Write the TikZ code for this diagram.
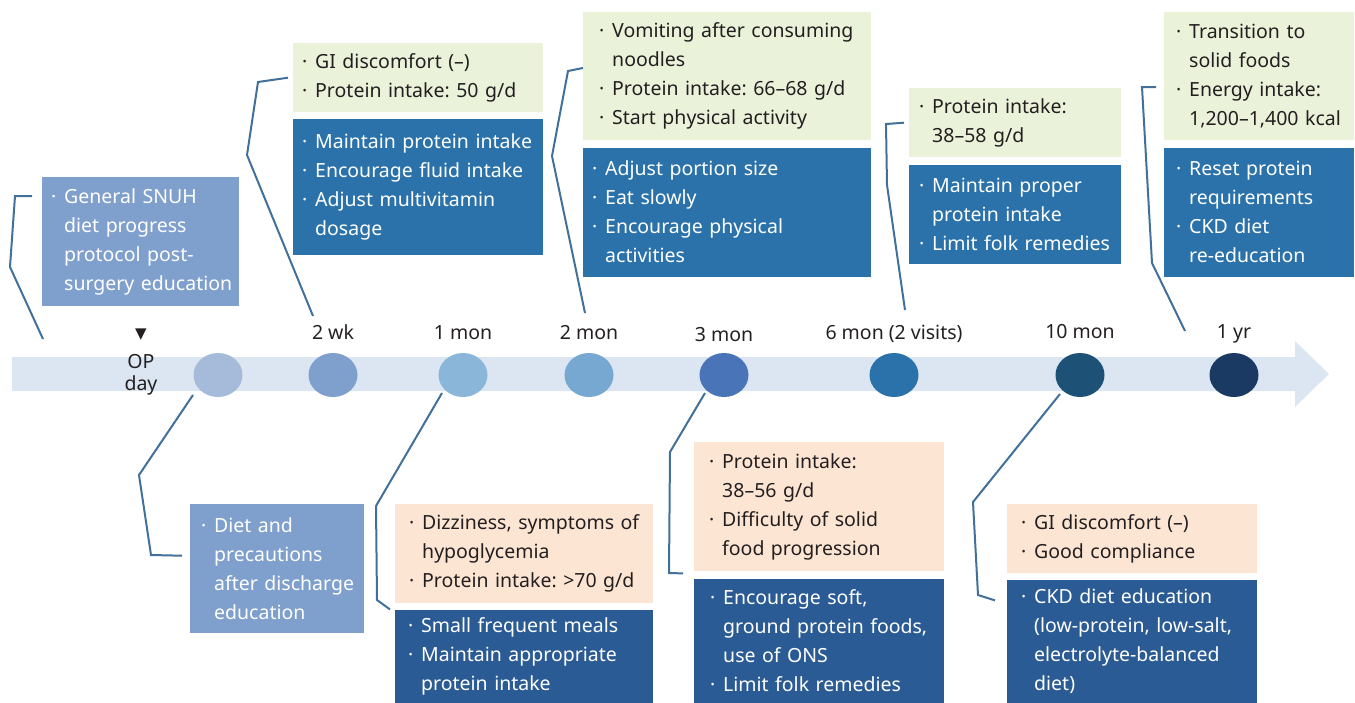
\documentclass[tikz,border=0pt]{standalone}
\usepackage{fontspec}
\setmainfont{Noto Sans}
\newfontfamily\symfont{DejaVu Sans}
\usepackage{xcolor}
\usepackage{tikz}
\usetikzlibrary{positioning,shapes.geometric,calc}

\definecolor{bandblue}{HTML}{DCE6F2}
\definecolor{linkblue}{HTML}{41709A}
\definecolor{obsgreen}{HTML}{EBF2DA}
\definecolor{obspeach}{HTML}{FDE5D3}
\definecolor{actblue}{HTML}{2A72A9}
\definecolor{actdark}{HTML}{2B5B94}
\definecolor{edublue}{HTML}{7F9FCD}
\definecolor{inkgray}{HTML}{231F20}
\definecolor{dotA}{RGB}{166,187,217}
\definecolor{dotB}{RGB}{127,159,205}
\definecolor{dotC}{RGB}{138,182,217}
\definecolor{dotD}{RGB}{118,168,209}
\definecolor{dotE}{RGB}{74,116,184}
\definecolor{dotF}{RGB}{43,114,170}
\definecolor{dotG}{RGB}{29,82,118}
\definecolor{dotH}{RGB}{26,58,100}

\frenchspacing
\newlength{\bpad}
\setlength{\bpad}{10pt}
\newcommand{\itm}{\hspace*{\dimexpr\bpad-1pt\relax}\makebox[13pt][l]{·}}
\newcommand{\ind}{\hspace*{\dimexpr\bpad+12pt\relax}}

\begin{document}
\begin{tikzpicture}[
    x=1pt, y=-1pt,
    node distance = 7pt,
    txt/.style     = {font=\fontsize{19.5}{29}\selectfont, text=inkgray},
    pad/.style     = {execute at begin node={\setlength{\bpad}{#1}}},
    box/.style     = {rectangle, txt, align=left, inner sep=0pt,
                      anchor=north west, pad=10pt},
    findbox/.style = {box, fill=obsgreen},
    warnbox/.style = {box, fill=obspeach},
    actbox/.style  = {box, fill=actblue, text=white},
    deepbox/.style = {box, fill=actdark, text=white},
    edubox/.style  = {box, fill=edublue, text=white},
    dot/.style     = {ellipse, minimum width=49pt, minimum height=44pt, inner sep=0pt},
    tl/.style      = {txt, anchor=base, inner sep=0pt},
    conn/.style    = {draw=linkblue, line width=2pt},
]
\useasboundingbox (0,0) rectangle (1355,702);

% timeline band
\fill[bandblue] (12,357) -- (1295,357) -- (1295,341) -- (1329,374)
               -- (1295,407) -- (1295,391) -- (12,391) -- cycle;

% visits
\node[dot, fill=dotA] (cOP)    at (218,375)  {};
\node[dot, fill=dotB] (c2wk)   at (333,375)  {};
\node[dot, fill=dotC] (c1mon)  at (463,375)  {};
\node[dot, fill=dotD] (c2mon)  at (589,375)  {};
\node[dot, fill=dotE] (c3mon)  at (724,375)  {};
\node[dot, fill=dotF] (c6mon)  at (894,375)  {};
\node[dot, fill=dotG] (c10mon) at (1080,375) {};
\node[dot, fill=dotH] (c1yr)   at (1234,375) {};

\node[inner sep=0pt, font=\symfont\fontsize{15}{15}\selectfont, text=inkgray] (tri) at (141,335) {▼};
\node[txt, align=center, inner sep=0pt, font=\fontsize{19.5}{22}\selectfont] (lOP) at (141,375) {OP\\day};
\node[tl] (l2wk)   at (333,339)  {2 wk};
\node[tl] (l1mon)  at (463,339)  {1 mon};
\node[tl] (l2mon)  at (589,339)  {2 mon};
\node[tl] (l3mon)  at (724,341)  {3 mon};
\node[tl] (l6mon)  at (894,339)  {6 mon (2 visits)};
\node[tl] (l10mon) at (1080,338) {10 mon};
\node[tl] (l1yr)   at (1234,338) {1 yr};

% boxes above the line
\node[edubox, text width=197pt, minimum height=129pt] (bOPtop) at (42,177)
    {\itm General SNUH\\ \ind diet progress\\ \ind protocol post-\\ \ind surgery education};

\node[findbox, text width=250pt, minimum height=69pt] (g2wk) at (293,43)
    {\itm GI discomfort (–)\\ \itm Protein intake: 50 g/d};
\node[actbox, text width=250pt, minimum height=136pt, below=6pt of g2wk] (b2wk)
    {\itm Maintain protein intake\\ \itm Encourage fluid intake\\
     \itm Adjust multivitamin\\ \ind dosage};

\node[findbox, pad=17pt, text width=288pt, minimum height=128pt] (g2mon) at (583,12)
    {\itm Vomiting after consuming\\ \ind noodles\\
     \itm Protein intake: 66–68 g/d\\ \itm Start physical activity};
\node[actbox, text width=288pt, minimum height=129pt, below=of g2mon] (b2mon)
    {\itm Adjust portion size\\ \itm Eat slowly\\
     \itm Encourage physical\\ \ind activities};

\node[findbox, pad=11pt, text width=212pt, minimum height=69pt] (g6mon) at (909,88)
    {\itm Protein intake:\\ \ind 38–58 g/d};
\node[actbox, pad=11pt, text width=212pt, minimum height=99pt, below=of g6mon] (b6mon)
    {\itm Maintain proper\\ \ind protein intake\\ \itm Limit folk remedies};

\node[findbox, pad=13pt, text width=190pt, minimum height=128pt] (g1yr) at (1164,12)
    {\itm Transition to\\ \ind solid foods\\ \itm Energy intake:\\ \ind 1,200–1,400 kcal};
\node[actbox, pad=13pt, text width=190pt, minimum height=129pt, below=of g1yr] (b1yr)
    {\itm Reset protein\\ \ind requirements\\ \itm CKD diet\\ \ind re-education};

% boxes below the line
\node[edubox, pad=12pt, text width=174pt, minimum height=129pt] (bOPbot) at (190,504)
    {\itm Diet and\\ \ind precautions\\ \ind after discharge\\ \ind education};

\node[warnbox, pad=15pt, text width=258pt, minimum height=99pt] (p1mon) at (395,504)
    {\itm Dizziness, symptoms of\\ \ind hypoglycemia\\ \itm Protein intake: >70 g/d};
\node[deepbox, pad=14pt, text width=258pt, minimum height=93pt, below=6pt of p1mon] (d1mon)
    {\itm Small frequent meals\\ \itm Maintain appropriate\\ \ind protein intake};

\node[warnbox, pad=16pt, text width=250pt, minimum height=129pt] (p3mon) at (694,442)
    {\itm Protein intake:\\ \ind 38–56 g/d\\ \itm Difficulty of solid\\ \ind food progression};
\node[deepbox, pad=17pt, text width=250pt, minimum height=124pt, below=of p3mon] (d3mon)
    {\itm Encourage soft,\\ \ind ground protein foods,\\ \ind use of ONS\\ \itm Limit folk remedies};

\node[warnbox, pad=15pt, text width=250pt, minimum height=69pt] (p10mon) at (1007,504)
    {\itm GI discomfort (–)\\ \itm Good compliance};
\node[deepbox, pad=15pt, text width=250pt, minimum height=123pt, below=6pt of p10mon] (d10mon)
    {\itm CKD diet education\\ \ind (low-protein, low-salt,\\
     \ind electrolyte-balanced\\ \ind diet)};

% connectors
\coordinate (kOPtop) at (43,339);
\coordinate (kOPbot) at (193,395);
\coordinate (k2wk)   at (313,316);
\coordinate (k1mon)  at (442,393);
\coordinate (k2mon)  at (585,313);
\coordinate (k3mon)  at (705,393);
\coordinate (k6mon)  at (905,310);
\coordinate (k10mon) at (1060,394);
\coordinate (k1yr)   at (1185,331);

\draw[conn] (kOPtop) -- (10,267) -- (15,196) -- ($(bOPtop.north west)+(-10,19)$);
\draw[conn] (kOPbot) -- (139,475) -- (151,555) -- ($(bOPbot.west)+(-8,-13)$);
\draw[conn] (k2wk)   -- (247,155) -- (258,82) -- ([xshift=-5pt]g2wk.west);
\draw[conn] (k1mon)  -- (376,506) -- (377,600) -- ($(d1mon.north west)+(-5,0)$);
\draw[conn] (k2mon)  -- (552,156) -- (568,71) -- ($(g2mon.north west)+(0,56)$);
\draw[conn] (k3mon)  -- (670,452) -- (669,573) -- ($(p3mon.south west)+(-11,2)$);
\draw[conn] (k6mon)  -- (887,185) -- (886,124) -- ([xshift=-5pt]g6mon.west);
\draw[conn] (k10mon) -- (973,502) -- (978,595) -- ($(d10mon.north west)+(-12,21)$);
\draw[conn] (k1yr)   -- (1152,263) -- (1142,87) -- ($(g1yr.north west)+(-8,75)$);
\end{tikzpicture}
\end{document}
